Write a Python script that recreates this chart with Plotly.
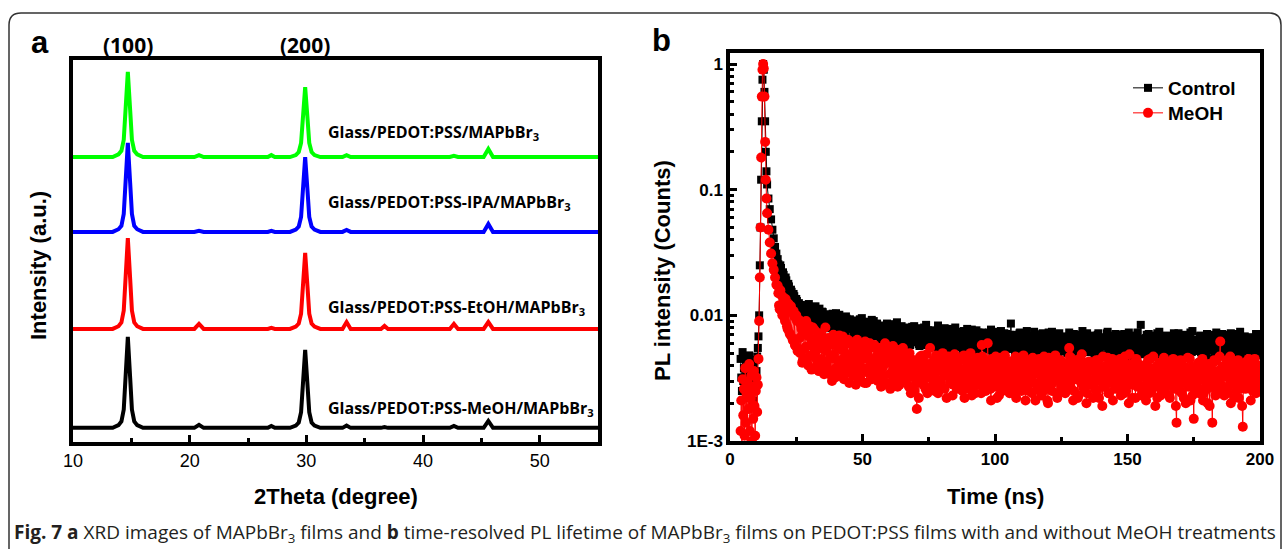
import plotly.graph_objects as go

W, H = 1285, 550

# ---------------- Panel a : XRD ----------------
two_theta = [10, 13.4, 13.9, 14.15, 14.35, 14.5, 14.7, 14.9, 15.05, 15.25, 15.5, 16.0,
             20.4, 20.8, 21.2, 26.7, 27.0, 27.3,
             28.6, 29.1, 29.35, 29.55, 29.7, 29.9, 30.1, 30.25, 30.45, 30.7, 31.2,
             33.1, 33.45, 33.8, 36.4, 36.7, 37.0, 42.3, 42.65, 43.0, 45.2, 45.6, 46.0, 55]

xrd_meoh = [0, 0, 0.7, 1.7, 4.8, 13.1, 23.8, 13.1, 4.8, 1.7, 0.7, 0,
            0, 0.8, 0, 0, 0.5, 0,
            0, 0.6, 1.4, 4.1, 11.2, 20.4, 11.2, 4.1, 1.4, 0.6, 0,
            0, 0.6, 0, 0, 0.2, 0, 0, 0.5, 0, 0, 1.8, 0, 0]
xrd_etoh = [0, 0, 0.7, 1.7, 4.8, 13.1, 23.8, 13.1, 4.8, 1.7, 0.7, 0,
            0, 1.3, 0, 0, 0.3, 0,
            0, 0.6, 1.4, 4.0, 11.0, 19.9, 11.0, 4.0, 1.4, 0.6, 0,
            0, 1.8, 0, 0, 0.8, 0, 0, 1.3, 0, 0, 1.8, 0, 0]
xrd_ipa = [0, 0, 0.7, 1.6, 4.7, 12.8, 23.3, 12.8, 4.7, 1.6, 0.7, 0,
           0, 0.3, 0, 0, 0.3, 0,
           0, 0.6, 1.4, 3.9, 10.8, 19.6, 10.8, 3.9, 1.4, 0.6, 0,
           0, 0.5, 0, 0, 0, 0, 0, 0, 0, 0, 2.1, 0, 0]
xrd_pristine = [0, 0, 0.7, 1.6, 4.5, 12.3, 22.3, 12.3, 4.5, 1.6, 0.7, 0,
                0, 0.5, 0, 0, 0.5, 0,
                0, 0.5, 1.3, 3.7, 10.1, 18.3, 10.1, 3.7, 1.3, 0.5, 0,
                0, 0.5, 0, 0, 0, 0, 0, 0.3, 0, 0, 2.1, 0, 0]

offset_meoh, offset_etoh, offset_ipa, offset_pristine = 3.7, 29.6, 55.0, 74.6

xrd_labels = ["Glass/PEDOT:PSS-MeOH/MAPbBr<sub>3</sub>",
              "Glass/PEDOT:PSS-EtOH/MAPbBr<sub>3</sub>",
              "Glass/PEDOT:PSS-IPA/MAPbBr<sub>3</sub>",
              "Glass/PEDOT:PSS/MAPbBr<sub>3</sub>"]
xrd_label_y = [8.9, 35.3, 62.6, 80.9]
xrd_colors = ["#000000", "#ff0000", "#0000ff", "#00ff00"]
xrd_ticks = [10, 20, 30, 40, 50]
xrd_minor = [15, 25, 35, 45]
peak_labels = ["(100)", "(200)"]
peak_pos = [14.7, 29.9]

# ---------------- Panel b : TRPL ----------------
head_t = [4.0, 4.25, 4.5, 4.75, 5.0, 5.25, 5.5, 5.75, 6.0, 6.25, 6.5, 6.75, 7.0, 7.25,
          7.5, 7.75, 8.0, 8.25, 8.5, 8.75, 9.0, 9.25, 9.5, 9.75, 10.0, 10.25, 10.5, 10.75,
          11.0, 11.25, 11.5, 11.75, 12.0, 12.25, 12.5, 12.75, 13.0, 13.25, 13.5, 13.75,
          14.0, 14.5, 15.0, 15.5, 16.0, 16.5, 17.0, 17.5]
ctrl_head_v = [0.0045, 0.0032, 0.0025, 0.0051, 0.003, 0.0038, 0.0027, 0.0046, 0.0022, 0.0035,
               0.0041, 0.0026, 0.0031, 0.0048, 0.0024, 0.0037, 0.0029, 0.0043, 0.0033, 0.0021,
               0.0039, 0.0034, 0.0028, 0.0044, 0.0036, 0.0047, 0.0055, 0.0068,
               0.01, 0.025, 0.05, 0.12, 0.35, 0.75, 1.0, 0.9, 0.6, 0.35, 0.2, 0.14,
               0.11, 0.085, 0.07, 0.058, 0.048, 0.041, 0.035, 0.031]
meoh_head_v = [0.0012, 0.0021, 0.0009, 0.0031, 0.0016, 0.0026, 0.0011, 0.0038, 0.0014, 0.0024,
               0.0008, 0.0029, 0.0018, 0.0041, 0.0012, 0.0022, 0.0033, 0.001, 0.0027, 0.0015,
               0.0036, 0.0019, 0.0011, 0.0025, 0.0032, 0.0017, 0.0028, 0.0045,
               0.009, 0.02, 0.05, 0.18, 0.55, 0.9, 1.0, 0.92, 0.55, 0.24, 0.12, 0.085,
               0.065, 0.048, 0.038, 0.031, 0.026, 0.023, 0.02, 0.0175]

# noisy tail: samples every 0.5 ns from 18 ns (and a second set shifted by 0.25 ns),
# values in units of 1e-4
tail_start, tail_step, tail_shift, tail_unit = 18.0, 0.5, 0.25, 1e-4
ctrl_tail = [
    280, 235, 250, 205, 220, 185, 200, 165, 178, 150, 160, 138, 148, 128, 135, 118,
    125, 102, 118, 95, 112, 92, 120, 98, 108, 88, 115, 94, 104, 86, 110, 90, 100, 84, 106, 89,
    102, 84, 96, 80, 99, 86, 92, 78, 104, 83, 90, 77, 97, 85, 88, 75, 94, 81, 91, 79,
    85, 72, 90, 77, 68, 83, 93, 74, 80, 66, 88, 76, 71, 84, 79, 92, 69, 81, 75, 86,
    70, 79, 64, 83, 74, 67, 81, 72, 62, 77, 85, 68, 75, 71, 88, 65, 78, 73, 60, 76,
    72, 63, 80, 67, 58, 75, 70, 82, 61, 69, 74, 57, 78, 66, 71, 64, 84, 60, 73, 68,
    62, 76, 59, 70, 65, 83, 57, 68, 73, 55, 79, 63, 67, 71, 54, 75, 61, 66, 80, 58,
    69, 56, 74, 62, 52, 70, 65, 78, 57, 63, 72, 53, 67, 60, 76, 55, 68, 61, 73, 58,
    64, 71, 54, 66, 59, 77, 51, 62, 69, 56, 74, 60, 50, 67, 63, 72, 55, 65, 58, 70,
    86, 57, 64, 52, 70, 61, 55, 73, 59, 49, 66, 62, 75, 54, 68, 58, 63, 51, 71, 60,
    56, 67, 61, 48, 72, 58, 64, 53, 69, 60, 50, 74, 57, 63, 55, 70, 47, 62, 66, 59,
    63, 52, 68, 57, 73, 50, 61, 66, 54, 70, 59, 48, 64, 56, 75, 53, 60, 67, 51, 62,
    55, 69, 60, 49, 65, 58, 72, 52, 62, 47, 67, 57, 63, 74, 50, 59, 66, 54, 61, 71,
    53, 64, 58, 70, 48, 61, 56, 67, 51, 73, 59, 46, 62, 55, 68, 57, 50, 65, 84, 60,
    58, 49, 66, 54, 71, 60, 47, 63, 56, 69, 52, 61, 74, 55, 45, 64, 59, 67, 50, 62,
    65, 53, 58, 72, 49, 61, 56, 68, 46, 63, 59, 70, 51, 57, 66, 48, 62, 75, 54, 60,
    52, 64, 57, 69, 47, 60, 66, 53, 71, 58, 45, 62, 55, 67, 50, 73, 59, 48, 63, 56,
    61, 70, 49, 58, 65, 53, 72, 56, 47, 63, 59, 68, 51, 74, 57, 46, 62, 66, 54, 60,
    55, 67, 50, 63, 58, 71, 48, 61, 57]
ctrl_tail_mid = [
    255, 215, 238, 196, 210, 176, 190, 158, 170, 145, 154, 133, 142, 124, 130, 112,
    98, 121, 90, 108, 116, 87, 103, 123, 93, 111, 85, 101, 118, 91, 96, 113, 83, 107, 94, 99,
    88, 100, 79, 94, 83, 103, 87, 97, 76, 91, 101, 82, 89, 95, 78, 98, 86, 80, 93, 84,
    78, 91, 70, 84, 87, 73, 79, 95, 67, 82, 76, 89, 72, 86, 74, 81, 90, 68, 83, 77,
    74, 66, 82, 69, 78, 63, 86, 71, 76, 80, 65, 73, 84, 61, 79, 70, 67, 82, 72, 64,
    66, 77, 60, 73, 69, 81, 62, 72, 65, 79, 59, 70, 75, 63, 80, 67, 58, 76, 64, 71,
    68, 61, 74, 56, 72, 64, 77, 60, 70, 66, 58, 75, 62, 69, 78, 57, 71, 65, 59, 73,
    60, 71, 63, 55, 75, 59, 66, 54, 70, 61, 77, 58, 64, 69, 52, 73, 62, 56, 67, 65,
    58, 67, 61, 73, 53, 64, 57, 70, 60, 52, 68, 63, 75, 56, 62, 59, 71, 54, 66, 61,
    62, 55, 69, 58, 64, 50, 72, 57, 66, 61, 53, 70, 59, 65, 48, 67, 56, 74, 60, 63,
    64, 52, 59, 70, 55, 66, 61, 49, 73, 57, 63, 56, 68, 51, 65, 60, 72, 54, 58, 67,
    57, 65, 50, 62, 69, 55, 58, 71, 60, 53, 66, 61, 49, 70, 57, 64, 55, 72, 59, 52,
    63, 56, 68, 53, 59, 70, 51, 64, 57, 66, 60, 49, 72, 55, 62, 58, 52, 69, 56, 65,
    59, 51, 66, 62, 55, 71, 48, 60, 64, 54, 69, 57, 52, 67, 60, 73, 53, 58, 63, 50,
    62, 55, 70, 51, 64, 58, 67, 53, 60, 47, 72, 57, 63, 50, 66, 56, 61, 69, 48, 59,
    54, 63, 60, 50, 67, 56, 72, 52, 58, 65, 49, 61, 69, 55, 62, 73, 51, 58, 64, 57,
    60, 55, 68, 51, 62, 57, 49, 66, 59, 70, 53, 64, 58, 47, 69, 56, 61, 65, 52, 71,
    56, 64, 59, 52, 69, 61, 50, 66, 58, 71, 54, 62, 57, 65, 49, 60, 68, 53, 63, 58,
    62, 52, 66, 57, 60, 69, 54, 59]
meoh_tail = [
    172, 120, 158, 108, 140, 96, 135, 82, 124, 72, 118, 66, 108, 58, 100, 52,
    92, 50, 78, 44, 86, 56, 70, 40, 82, 48, 64, 38, 76, 52, 60, 36, 72, 45, 58, 34,
    80, 42, 66, 34, 58, 30, 70, 45, 38, 62, 33, 55, 41, 68, 31, 50, 36, 64, 29, 47,
    60, 33, 52, 28, 64, 40, 46, 30, 57, 36, 62, 29, 49, 38, 55, 31, 43, 58, 34, 48,
    37, 55, 27, 48, 33, 60, 29, 44, 52, 26, 41, 57, 31, 46, 35, 53, 28, 50, 39, 45,
    42, 31, 38, 27, 45, 33, 40, 25, 36, 18, 43, 30, 37, 48, 28, 39, 34, 24, 41, 55,
    35, 28, 44, 32, 38, 24, 46, 30, 36, 41, 26, 39, 33, 47, 29, 37, 23, 42, 31, 36,
    40, 27, 34, 45, 30, 22, 38, 33, 43, 26, 36, 29, 41, 24, 35, 46, 31, 28, 58, 33,
    37, 25, 42, 30, 35, 21, 44, 32, 27, 39, 34, 23, 46, 29, 36, 41, 26, 33, 38, 24,
    31, 43, 27, 36, 22, 40, 33, 45, 25, 30, 38, 21, 35, 28, 42, 32, 24, 37, 29, 44,
    26, 34, 40, 23, 31, 47, 28, 36, 20, 39, 33, 25, 43, 30, 37, 22, 35, 41, 27, 32,
    38, 24, 30, 42, 55, 27, 34, 21, 40, 31, 36, 23, 45, 29, 33, 26, 39, 20, 35, 43,
    28, 37, 22, 41, 32, 25, 44, 30, 35, 19, 38, 27, 33, 46, 24, 31, 40, 21, 36, 29,
    42, 26, 34, 23, 39, 30, 47, 25, 36, 20, 32, 41, 28, 35, 22, 44, 31, 27, 38, 24,
    33, 40, 21, 36, 29, 45, 25, 31, 38, 19, 34, 27, 42, 23, 30, 37, 26, 43, 28, 35,
    22, 39, 31, 26, 41, 14, 33, 28, 44, 24, 36, 30, 20, 38, 27, 45, 32, 23, 15, 34,
    29, 37, 24, 42, 31, 21, 35, 40, 26, 33, 19, 38, 14, 30, 43, 25, 36, 28, 62, 32,
    39, 23, 34, 44, 27, 31, 20, 37, 29, 41, 25, 35, 22, 40, 30, 13, 36, 26, 43, 28,
    33, 21, 38, 29, 45, 24, 35, 30, 27]
meoh_tail_mid = [
    150, 112, 146, 100, 128, 90, 121, 78, 114, 70, 106, 63, 98, 57, 90, 54,
    66, 84, 42, 74, 54, 90, 46, 68, 58, 37, 80, 50, 62, 44, 71, 39, 55, 66, 41, 63,
    52, 38, 61, 46, 35, 66, 49, 32, 57, 43, 69, 37, 53, 45, 34, 59, 48, 40, 62, 35,
    42, 54, 36, 47, 59, 32, 44, 51, 38, 29, 53, 45, 35, 60, 41, 33, 56, 39, 46, 30,
    44, 31, 52, 39, 28, 47, 42, 56, 34, 49, 36, 30, 54, 40, 27, 48, 43, 33, 55, 37,
    30, 46, 35, 50, 24, 41, 33, 44, 29, 38, 22, 47, 35, 31, 42, 26, 49, 37, 32, 40,
    41, 33, 25, 48, 37, 30, 43, 27, 50, 34, 39, 22, 45, 36, 31, 42, 28, 49, 35, 26,
    32, 44, 37, 25, 48, 35, 29, 41, 31, 50, 23, 39, 34, 44, 28, 37, 42, 24, 47, 30,
    28, 40, 60, 34, 26, 45, 31, 38, 47, 22, 36, 42, 30, 25, 39, 48, 33, 29, 43, 37,
    35, 24, 39, 47, 29, 34, 26, 41, 37, 48, 28, 33, 44, 25, 38, 30, 46, 35, 21, 40,
    36, 45, 29, 38, 25, 42, 34, 21, 46, 31, 28, 40, 35, 48, 24, 37, 30, 44, 33, 26,
    32, 41, 27, 36, 47, 30, 39, 25, 44, 34, 22, 38, 31, 49, 28, 42, 35, 24, 40, 30,
    41, 30, 36, 26, 44, 34, 22, 39, 31, 47, 27, 35, 40, 24, 37, 29, 45, 33, 26, 39,
    30, 38, 45, 27, 33, 24, 41, 36, 29, 49, 34, 22, 39, 31, 45, 27, 35, 40, 23, 37,
    27, 36, 31, 44, 24, 38, 33, 47, 29, 35, 22, 41, 30, 37, 25, 46, 32, 28, 40, 23,
    38, 28, 45, 33, 19, 36, 42, 25, 31, 40, 22, 35, 29, 46, 33, 21, 39, 27, 36, 30,
    34, 42, 26, 31, 45, 24, 38, 29, 20, 41, 33, 27, 36, 44, 23, 35, 30, 47, 26, 39,
    27, 36, 42, 24, 33, 47, 29, 38, 22, 35, 31, 44, 26, 37, 19, 32, 41, 28, 35, 45,
    30, 38, 25, 42, 33, 28, 40, 31]

trpl_xticks = [0, 50, 100, 150, 200]
trpl_xminor = [25, 75, 125, 175]
trpl_yticks = [0.001, 0.01, 0.1, 1]
trpl_ytext = ["1E-3", "0.01", "0.1", "1"]
series_names = ["Control", "MeOH"]

caption = ("<b>Fig. 7 a</b> XRD images of MAPbBr<sub>3</sub> films and <b>b</b> time-resolved PL "
           "lifetime of MAPbBr<sub>3</sub> films on PEDOT:PSS films with and without MeOH treatments")


def px(x):
    return x / W


def py(y):
    return 1 - y / H


def build_series(head_v, tail, tail_mid):
    pts = list(zip(head_t, head_v))
    pts += [(tail_start + tail_step * i, v * tail_unit) for i, v in enumerate(tail)]
    pts += [(tail_start + tail_shift + tail_step * i, v * tail_unit) for i, v in enumerate(tail_mid)]
    pts.sort(key=lambda p: p[0])
    return [p[0] for p in pts], [p[1] for p in pts]


fig = go.Figure()

for vals, off, col in [(xrd_meoh, offset_meoh, xrd_colors[0]),
                       (xrd_etoh, offset_etoh, xrd_colors[1]),
                       (xrd_ipa, offset_ipa, xrd_colors[2]),
                       (xrd_pristine, offset_pristine, xrd_colors[3])]:
    fig.add_trace(go.Scatter(x=two_theta, y=[v + off for v in vals], mode="lines",
                             line=dict(color=col, width=4), xaxis="x", yaxis="y",
                             showlegend=False, hoverinfo="skip"))

ctrl_t, ctrl_v = build_series(ctrl_head_v, ctrl_tail, ctrl_tail_mid)
meoh_t, meoh_v = build_series(meoh_head_v, meoh_tail, meoh_tail_mid)

fig.add_trace(go.Scatter(x=ctrl_t, y=ctrl_v, name=series_names[0], mode="lines+markers",
                         line=dict(color="#000000", width=1),
                         marker=dict(symbol="square", size=8, color="#000000"),
                         xaxis="x2", yaxis="y2", legend="legend"))
fig.add_trace(go.Scatter(x=meoh_t, y=meoh_v, name=series_names[1], mode="lines+markers",
                         line=dict(color="#ff0000", width=1),
                         marker=dict(symbol="circle", size=10, color="#ff0000"),
                         xaxis="x2", yaxis="y2", legend="legend2"))

axis_common = dict(showline=True, linewidth=3.5, linecolor="#000000", mirror=True,
                   showgrid=False, zeroline=False, ticks="inside", ticklen=7,
                   tickwidth=3, tickcolor="#000000", automargin=False)

log_minor = [m * 10 ** e for e in (-3, -2, -1) for m in range(2, 10)]
legend_font = dict(family="Arial", size=19, color="#000000", weight="bold")

fig.update_layout(
    template="none",
    width=W, height=H, autosize=False,
    margin=dict(l=0, r=0, t=0, b=0, pad=0, autoexpand=False),
    paper_bgcolor="#ffffff", plot_bgcolor="#ffffff",
    xaxis=dict(domain=[px(73), px(598)], range=[10, 55], anchor="y",
               tickvals=xrd_ticks,
               tickfont=dict(family="Arial", size=18, color="#000000"),
               minor=dict(tickvals=xrd_minor, ticks="inside", ticklen=4, tickwidth=3,
                          tickcolor="#000000"),
               **axis_common),
    yaxis=dict(domain=[py(442), py(60)], range=[0, 100], anchor="x",
               showticklabels=False, showline=True, linewidth=3.5, linecolor="#000000",
               mirror=True, showgrid=False, zeroline=False, ticks="", automargin=False),
    xaxis2=dict(domain=[px(730), px(1260)], range=[0, 200], anchor="y2",
                tickvals=trpl_xticks,
                tickfont=dict(family="Arial", size=17, color="#000000", weight="bold"),
                minor=dict(tickvals=trpl_xminor, ticks="inside", ticklen=4, tickwidth=3,
                           tickcolor="#000000"),
                **axis_common),
    yaxis2=dict(domain=[py(441), py(53)], type="log", range=[-3, 0.0875], anchor="x2",
                tickvals=trpl_yticks, ticktext=trpl_ytext,
                tickfont=dict(family="Arial", size=17, color="#000000", weight="bold"),
                minor=dict(tickvals=log_minor, ticks="inside", ticklen=4, tickwidth=3,
                           tickcolor="#000000"),
                **axis_common),
    showlegend=True,
    legend=dict(x=px(1128), y=py(88), xanchor="left", yanchor="middle",
                bgcolor="rgba(0,0,0,0)", borderwidth=0, font=legend_font),
    legend2=dict(x=px(1128), y=py(113), xanchor="left", yanchor="middle",
                 bgcolor="rgba(0,0,0,0)", borderwidth=0, font=legend_font),
    hovermode=False,
)

ann = []
for txt, yy in zip(xrd_labels, xrd_label_y):
    ann.append(dict(x=31.7, y=yy, xref="x", yref="y", text=txt, showarrow=False,
                    xanchor="left", yanchor="middle",
                    font=dict(family="Open Sans", size=16, color="#000000", weight="bold")))
for txt, xx in zip(peak_labels, peak_pos):
    ann.append(dict(x=xx, y=py(45), xref="x", yref="paper", text=txt, showarrow=False,
                    xanchor="center", yanchor="middle",
                    font=dict(family="Open Sans", size=21, color="#000000", weight="bold")))
ann.append(dict(x=px(40), y=py(43), xref="paper", yref="paper", text="a", showarrow=False,
                xanchor="center", yanchor="middle",
                font=dict(family="Arial", size=31, color="#000000", weight="bold")))
ann.append(dict(x=px(662), y=py(40), xref="paper", yref="paper", text="b", showarrow=False,
                xanchor="center", yanchor="middle",
                font=dict(family="Arial", size=31, color="#000000", weight="bold")))
title_font = dict(family="Arial", size=22, color="#000000", weight="bold")
ann.append(dict(x=px(336), y=py(496), xref="paper", yref="paper", text="2Theta (degree)",
                showarrow=False, xanchor="center", yanchor="middle", font=title_font))
ann.append(dict(x=px(995), y=py(496), xref="paper", yref="paper", text="Time (ns)",
                showarrow=False, xanchor="center", yanchor="middle", font=title_font))
ann.append(dict(x=px(38), y=py(266), xref="paper", yref="paper", text="Intensity (a.u.)",
                showarrow=False, xanchor="center", yanchor="middle", textangle=-90,
                font=title_font))
ann.append(dict(x=px(662), y=py(270), xref="paper", yref="paper", text="PL intensity (Counts)",
                showarrow=False, xanchor="center", yanchor="middle", textangle=-90,
                font=title_font))
ann.append(dict(x=px(12), y=py(533), xref="paper", yref="paper", text=caption,
                showarrow=False, xanchor="left", yanchor="middle",
                font=dict(family="Open Sans", size=19, color="#231f20")))
fig.update_layout(annotations=ann)

L, T, R, B, r = px(9), py(13), px(1281), py(549), 12
rx, ry = r / W, r / H
path = (f"M {L},{B} L {L},{T - ry} Q {L},{T} {L + rx},{T} "
        f"L {R - rx},{T} Q {R},{T} {R},{T - ry} L {R},{B}")
fig.add_shape(type="path", path=path, xref="paper", yref="paper",
              line=dict(color="#333333", width=1.5))

fig.write_html("out.html",
               config={"displayModeBar": False, "responsive": False},
               post_script="document.body.style.margin='0';document.body.style.overflow='hidden';")
